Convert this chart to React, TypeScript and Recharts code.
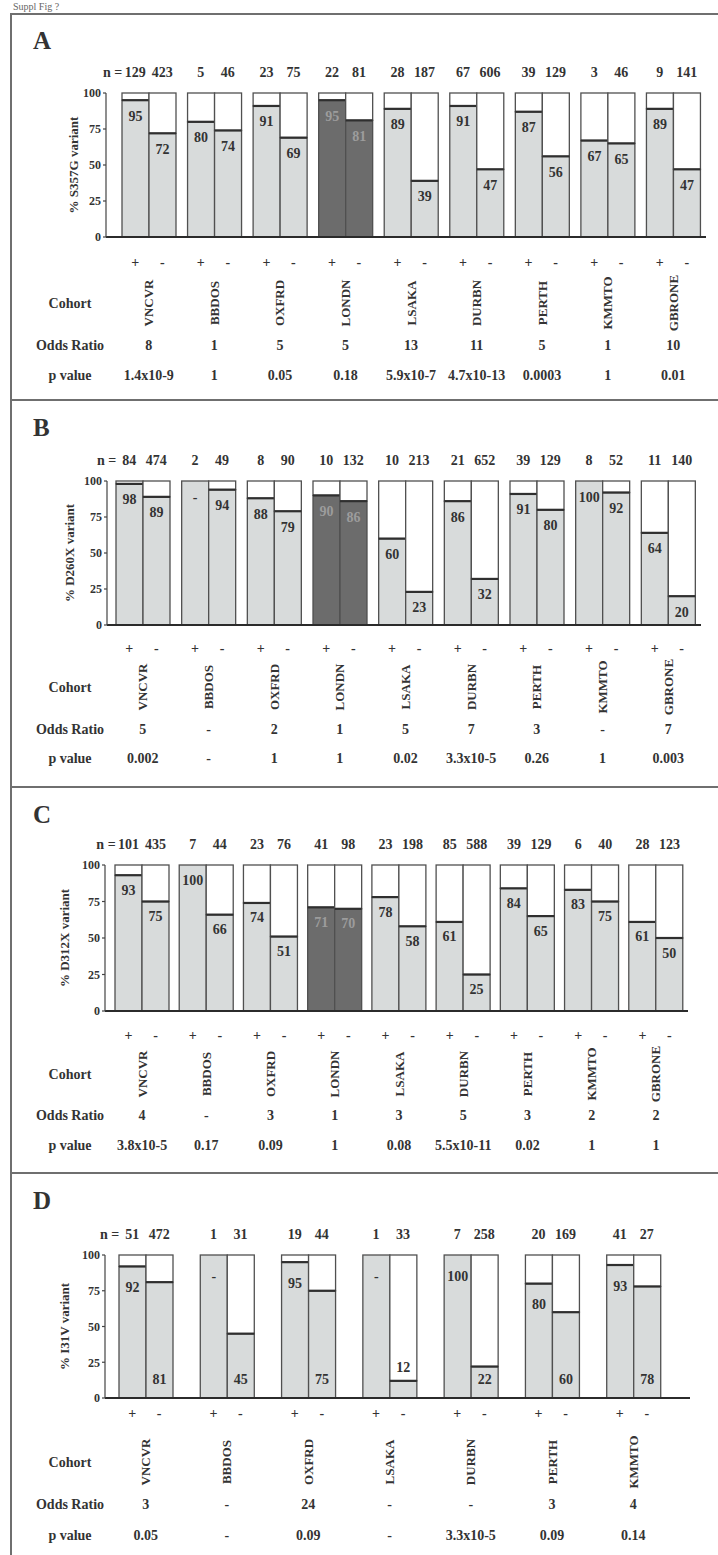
import React from 'react';
import { BarChart, Bar, XAxis, YAxis, LabelList } from 'recharts';

const SERIF = '"Liberation Serif", "Times New Roman", Times, serif';
const INK = '#333333';
const FRAME = '#6f6f6f';
const LIGHT_FILL = '#d8dbdb';
const DARK_FILL = '#6c6c6c';
const BAR_EDGE = '#505050';
const SPLIT_LINE = '#2f2f2f';
const HIGHLIGHT = 'LONDN';
const BAR_W = 27;

// ---- A: S357G ----
const cohortsA = ['VNCVR', 'BBDOS', 'OXFRD', 'LONDN', 'LSAKA', 'DURBN', 'PERTH', 'KMMTO', 'GBRONE'];
const nPlusA = [129, 5, 23, 22, 28, 67, 39, 3, 9];
const nMinusA = [423, 46, 75, 81, 187, 606, 129, 46, 141];
const pctPlusA = [95, 80, 91, 95, 89, 91, 87, 67, 89];
const pctMinusA = [72, 74, 69, 81, 39, 47, 56, 65, 47];
const oddsA = ['8', '1', '5', '5', '13', '11', '5', '1', '10'];
const pValA = ['1.4x10-9', '1', '0.05', '0.18', '5.9x10-7', '4.7x10-13', '0.0003', '1', '0.01'];

// ---- B: D260X ----
const cohortsB = ['VNCVR', 'BBDOS', 'OXFRD', 'LONDN', 'LSAKA', 'DURBN', 'PERTH', 'KMMTO', 'GBRONE'];
const nPlusB = [84, 2, 8, 10, 10, 21, 39, 8, 11];
const nMinusB = [474, 49, 90, 132, 213, 652, 129, 52, 140];
const pctPlusB = [98, 100, 88, 90, 60, 86, 91, 100, 64];
const pctMinusB = [89, 94, 79, 86, 23, 32, 80, 92, 20];
const oddsB = ['5', '-', '2', '1', '5', '7', '3', '-', '7'];
const pValB = ['0.002', '-', '1', '1', '0.02', '3.3x10-5', '0.26', '1', '0.003'];
const dashPlusB = ['BBDOS'];

// ---- C: D312X ----
const cohortsC = ['VNCVR', 'BBDOS', 'OXFRD', 'LONDN', 'LSAKA', 'DURBN', 'PERTH', 'KMMTO', 'GBRONE'];
const nPlusC = [101, 7, 23, 41, 23, 85, 39, 6, 28];
const nMinusC = [435, 44, 76, 98, 198, 588, 129, 40, 123];
const pctPlusC = [93, 100, 74, 71, 78, 61, 84, 83, 61];
const pctMinusC = [75, 66, 51, 70, 58, 25, 65, 75, 50];
const oddsC = ['4', '-', '3', '1', '3', '5', '3', '2', '2'];
const pValC = ['3.8x10-5', '0.17', '0.09', '1', '0.08', '5.5x10-11', '0.02', '1', '1'];

// ---- D: I31V ----
const cohortsD = ['VNCVR', 'BBDOS', 'OXFRD', 'LSAKA', 'DURBN', 'PERTH', 'KMMTO'];
const nPlusD = [51, 1, 19, 1, 7, 20, 41];
const nMinusD = [472, 31, 44, 33, 258, 169, 27];
const pctPlusD = [92, 100, 95, 100, 100, 80, 93];
const pctMinusD = [81, 45, 75, 12, 22, 60, 78];
const oddsD = ['3', '-', '24', '-', '-', '3', '4'];
const pValD = ['0.05', '-', '0.09', '-', '3.3x10-5', '0.09', '0.14'];
const dashPlusD = ['BBDOS', 'LSAKA'];

type Layout = {
  top: number;
  bottom: number;
  plotTop: number;
  plotBottom: number;
  plotLeft: number;
  padLeft: number;
  padRight: number;
  marginRight: number;
  titleX: number;
  signDy: number;
  nameDy: number;
  orDy: number;
  pDy: number;
  plusDy: number;
  minusAtBottom?: boolean;
};

const layoutA: Layout = { top: 13, bottom: 400, plotTop: 93, plotBottom: 237, plotLeft: 106, padLeft: 10, padRight: 0, marginRight: 12, titleX: 73, signDy: 25, nameDy: 66, orDy: 108, pDy: 138, plusDy: 16 };
const layoutB: Layout = { top: 400, bottom: 787, plotTop: 481, plotBottom: 625, plotLeft: 107, padLeft: 3, padRight: 0, marginRight: 17, titleX: 69, signDy: 23, nameDy: 62, orDy: 104, pDy: 133, plusDy: 16 };
const layoutC: Layout = { top: 787, bottom: 1173, plotTop: 865, plotBottom: 1011, plotLeft: 105, padLeft: 5, padRight: 0, marginRight: 30, titleX: 64, signDy: 24, nameDy: 63, orDy: 104, pDy: 134, plusDy: 15 };
const layoutD: Layout = { top: 1173, bottom: 1555, plotTop: 1255, plotBottom: 1398, plotLeft: 105, padLeft: 0, padRight: 16, marginRight: 28, titleX: 64, signDy: 15, nameDy: 64, orDy: 106, pDy: 137, plusDy: 21, minusAtBottom: true };

const txt = {
  fontFamily: SERIF,
  fontWeight: 700,
  fill: INK,
  textAnchor: 'middle' as const,
  dominantBaseline: 'central' as const,
};

type PanelProps = {
  letter: string;
  title: string;
  cohorts: string[];
  nPlus: number[];
  nMinus: number[];
  plus: number[];
  minus: number[];
  odds: string[];
  pvals: string[];
  dashPlus?: string[];
  layout: Layout;
};

const filledShape = (props: any) => {
  const { x, y, width, height, payload } = props;
  const dark = payload && payload.cohort === HIGHLIGHT;
  return (
    <rect x={x} y={y} width={width} height={Math.max(height, 0)} fill={dark ? DARK_FILL : LIGHT_FILL} stroke={BAR_EDGE} strokeWidth={1.3} />
  );
};

const restShape = (props: any) => {
  const { x, y, width, height } = props;
  if (!height || height <= 0) return <g />;
  return (
    <g>
      <rect x={x} y={y} width={width} height={height} fill="#ffffff" stroke={BAR_EDGE} strokeWidth={1.3} />
      <line x1={x} x2={x + width} y1={y + height} y2={y + height} stroke={SPLIT_LINE} strokeWidth={2.2} />
    </g>
  );
};

const Panel = ({ letter, title, cohorts, nPlus, nMinus, plus, minus, odds, pvals, dashPlus = [], layout: L }: PanelProps) => {
  const rows = cohorts.map((cohort, i) => ({
    cohort,
    plus: plus[i],
    plusRest: 100 - plus[i],
    minus: minus[i],
    minusRest: 100 - minus[i],
  }));
  const plusText = cohorts.map((c, i) => (dashPlus.includes(c) ? '-' : String(plus[i])));
  const minusText = minus.map(String);
  const plotH = L.plotBottom - L.plotTop;

  // value label inside each bar
  const pctLabel = (texts: string[], atBottom: boolean) => (props: any) => {
    const vb = props.viewBox || props;
    const { x, y, width, height } = vb;
    const idx = props.index;
    const cx = Number(x) + Number(width) / 2;
    let cy = Number(y) + L.plusDy;
    if (atBottom) {
      cy = height < 24 ? Number(y) - 13 : Number(y) + Number(height) - 19;
    }
    const dark = rows[idx] && rows[idx].cohort === HIGHLIGHT;
    return (
      <text x={cx} y={cy} {...txt} fontSize={14} fill={dark ? '#9c9c9c' : INK}>
        {texts[idx]}
      </text>
    );
  };

  // everything written under / above each cohort group
  const groupTick = (props: any) => {
    const { x, y } = props;
    const index = props.payload?.index ?? props.index;
    const name = props.payload?.value;
    const h = BAR_W / 2;
    const nY = y - plotH - 21;
    const nameY = y + L.nameDy;
    return (
      <g>
        {index === 0 && (
          <text x={x - h - 13} y={nY} {...txt} textAnchor="end" fontSize={14}>
            n =
          </text>
        )}
        <text x={x - h} y={nY} {...txt} fontSize={14}>{nPlus[index]}</text>
        <text x={x + h} y={nY} {...txt} fontSize={14}>{nMinus[index]}</text>
        <text x={x - h} y={y + L.signDy} {...txt} fontSize={14}>+</text>
        <text x={x + h} y={y + L.signDy} {...txt} fontSize={14}>-</text>
        <text x={x} y={nameY} {...txt} fontSize={13} transform={`rotate(-90 ${x} ${nameY})`}>
          {name}
        </text>
        <text x={x} y={y + L.orDy} {...txt} fontSize={14}>{odds[index]}</text>
        <text x={x} y={y + L.pDy} {...txt} fontSize={14}>{pvals[index]}</text>
        {index === 0 && (
          <g>
            <text x={70} y={nameY} {...txt} fontSize={14}>Cohort</text>
            <text x={70} y={y + L.orDy} {...txt} fontSize={14}>Odds Ratio</text>
            <text x={70} y={y + L.pDy} {...txt} fontSize={14}>p value</text>
          </g>
        )}
      </g>
    );
  };

  return (
    <div style={{ position: 'absolute', left: 0, top: L.top, width: 718, height: L.bottom - L.top }}>
      <div
        style={{
          position: 'absolute',
          left: 33,
          top: 15,
          fontFamily: SERIF,
          fontWeight: 700,
          fontSize: 25,
          lineHeight: '25px',
          color: INK,
        }}
      >
        {letter}
      </div>
      <BarChart
        width={718}
        height={L.bottom - L.top}
        data={rows}
        margin={{ top: L.plotTop - L.top, right: L.marginRight, bottom: 0, left: 0 }}
        barGap={0}
      >
        <XAxis
          dataKey="cohort"
          type="category"
          interval={0}
          height={L.bottom - L.plotBottom}
          tickLine={false}
          tickSize={0}
          tickMargin={0}
          axisLine={{ stroke: '#2b2b2b', strokeWidth: 2 }}
          padding={{ left: L.padLeft, right: L.padRight }}
          tick={groupTick}
        />
        <YAxis
          type="number"
          domain={[0, 100]}
          ticks={[0, 25, 50, 75, 100]}
          width={L.plotLeft}
          tickSize={3}
          tickMargin={2}
          axisLine={{ stroke: '#444', strokeWidth: 1.2 }}
          tickLine={{ stroke: '#444', strokeWidth: 1.2 }}
          tick={{ fontFamily: SERIF, fontWeight: 700, fontSize: 12, fill: INK }}
          label={{
            value: title,
            angle: -90,
            position: 'insideLeft',
            offset: L.titleX,
            style: { textAnchor: 'middle', fontFamily: SERIF, fontWeight: 700, fontSize: 13, fill: INK },
          }}
        />
        <Bar dataKey="plus" stackId="p" barSize={BAR_W} shape={filledShape} isAnimationActive={false}>
          <LabelList dataKey="plus" content={pctLabel(plusText, false)} />
        </Bar>
        <Bar dataKey="plusRest" stackId="p" barSize={BAR_W} shape={restShape} isAnimationActive={false} />
        <Bar dataKey="minus" stackId="m" barSize={BAR_W} shape={filledShape} isAnimationActive={false}>
          <LabelList dataKey="minus" content={pctLabel(minusText, !!L.minusAtBottom)} />
        </Bar>
        <Bar dataKey="minusRest" stackId="m" barSize={BAR_W} shape={restShape} isAnimationActive={false} />
      </BarChart>
    </div>
  );
};

export default function App() {
  const hLine = (top: number) => (
    <div style={{ position: 'absolute', left: 10, top, width: 708, height: 2, background: FRAME }} />
  );
  return (
    <div style={{ position: 'absolute', left: 0, top: 0, width: 718, height: 1555, background: '#fff', overflow: 'hidden' }}>
      <div style={{ position: 'absolute', left: 13, top: 1, fontFamily: SERIF, fontSize: 10, lineHeight: '11px', color: '#666' }}>
        Suppl Fig ?
      </div>
      <div style={{ position: 'absolute', left: 10, top: 13, width: 2, height: 1542, background: FRAME }} />
      {hLine(13)}
      {hLine(399)}
      {hLine(786)}
      {hLine(1172)}
      <Panel letter="A" title="% S357G variant" cohorts={cohortsA} nPlus={nPlusA} nMinus={nMinusA} plus={pctPlusA} minus={pctMinusA} odds={oddsA} pvals={pValA} layout={layoutA} />
      <Panel letter="B" title="% D260X variant" cohorts={cohortsB} nPlus={nPlusB} nMinus={nMinusB} plus={pctPlusB} minus={pctMinusB} odds={oddsB} pvals={pValB} dashPlus={dashPlusB} layout={layoutB} />
      <Panel letter="C" title="% D312X variant" cohorts={cohortsC} nPlus={nPlusC} nMinus={nMinusC} plus={pctPlusC} minus={pctMinusC} odds={oddsC} pvals={pValC} layout={layoutC} />
      <Panel letter="D" title="% I31V variant" cohorts={cohortsD} nPlus={nPlusD} nMinus={nMinusD} plus={pctPlusD} minus={pctMinusD} odds={oddsD} pvals={pValD} dashPlus={dashPlusD} layout={layoutD} />
    </div>
  );
}
